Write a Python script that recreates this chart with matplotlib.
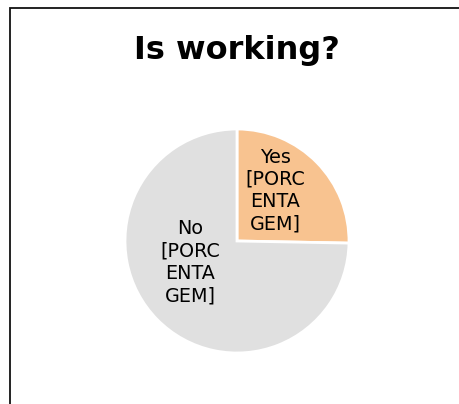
import matplotlib
matplotlib.use("Agg")
import matplotlib.pyplot as plt
from matplotlib.patches import Rectangle

categories = ["Yes", "No"]
values = [25.3, 74.7]
colors = ["#F8C390", "#E0E0E0"]
label_texts = ["Yes\n[PORC\nENTA\nGEM]", "No\n[PORC\nENTA\nGEM]"]
title = "Is working?"

W, H = 460, 404
fig = plt.figure(figsize=(W / 100, H / 100), dpi=100)
fig.patch.set_facecolor("white")

# outer frame (cropped chart border)
fig.patches.append(Rectangle((10 / W, -0.2), 1.2, 1.2 - 8 / H,
                             transform=fig.transFigure, fill=False,
                             edgecolor="#111111", linewidth=1.3))

fig.text(237 / W, 1 - 50 / H, title, ha="center", va="center",
         fontsize=23, fontweight="bold", family="DejaVu Sans")

cx, cy, r = 237, 241, 112
ax = fig.add_axes([(cx - r) / W, (H - cy - r) / H, 2 * r / W, 2 * r / H])
ax.pie(values, colors=colors, startangle=90, counterclock=False,
       wedgeprops=dict(edgecolor="white", linewidth=2))
ax.set_xlim(-1, 1)
ax.set_ylim(-1, 1)
ax.set_aspect("equal")
ax.axis("off")

label_pos = [(0.34, 0.45), (-0.42, -0.19)]
for txt, (x, y) in zip(label_texts, label_pos):
    ax.text(x, y, txt, ha="center", va="center", fontsize=13.8,
            linespacing=1.22, color="black")

fig.savefig("out.png", dpi=100, facecolor="white")
